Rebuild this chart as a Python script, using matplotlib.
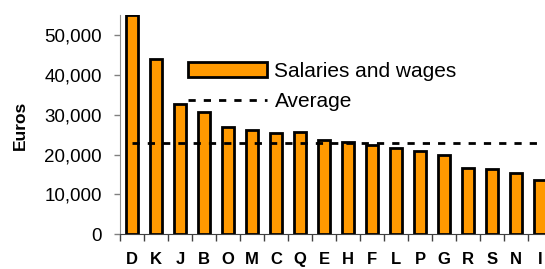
import matplotlib
matplotlib.use('Agg')
import matplotlib.pyplot as plt
from matplotlib.ticker import FuncFormatter, FixedLocator

plt.rcParams['font.family'] = ['Liberation Sans', 'DejaVu Sans']

categories = ['D', 'K', 'J', 'B', 'O', 'M', 'C', 'Q', 'E', 'H', 'F', 'L', 'P', 'G', 'R', 'S', 'N', 'I']
salaries = [55000, 44100, 32600, 30700, 26800, 26100, 25300, 25700, 23600, 23200,
            22300, 21600, 20800, 19900, 16700, 16400, 15400, 13600]
average = 22800

fig = plt.figure(figsize=(5.45, 2.69), dpi=100)
ax = fig.add_axes([0.2202, 0.1301, 0.7926, 0.8127])

x = list(range(len(categories)))
bars = ax.bar(x, salaries, width=0.52, color='#FF9900', edgecolor='black',
              linewidth=2, label='Salaries and wages')
avg_line, = ax.plot([x[0], x[-1]], [average, average], color='black', linewidth=2,
                    dashes=(2.6, 2.9), label='Average')

ax.set_xlim(-0.5, len(categories) - 0.5)
ax.set_ylim(0, 55000)
ax.set_yticks(range(0, 50001, 10000))
ax.yaxis.set_major_formatter(FuncFormatter(lambda v, p: f'{int(v):,}'))
ax.tick_params(axis='y', labelsize=13.5, length=4, width=1, color='#808080', pad=9)

ax.set_xticks(x)
ax.set_xticklabels(categories, fontweight='bold', fontsize=12)
ax.tick_params(axis='x', which='major', length=0, pad=13)
ax.xaxis.set_minor_locator(FixedLocator([i - 0.5 for i in range(len(categories) + 1)]))
ax.tick_params(axis='x', which='minor', length=5, width=1, color='#404040')

for s in ['top', 'right']:
    ax.spines[s].set_visible(False)
ax.spines['left'].set_color('#909090')
ax.spines['bottom'].set_color('#404040')

fig.text(20 / 545, (269 - 125) / 269, 'Euros', rotation=90, fontweight='bold',
         fontsize=12.5, ha='center', va='center')

ax.legend(handles=[bars, avg_line], loc='upper left',
          bbox_to_anchor=(188 / 545, 1 - 62 / 269), bbox_transform=fig.transFigure,
          frameon=False, fontsize=15, handlelength=3.8, handleheight=0.7,
          handletextpad=0.35, labelspacing=0.55, borderpad=0, borderaxespad=0)

fig.savefig('out.png', dpi=100)
